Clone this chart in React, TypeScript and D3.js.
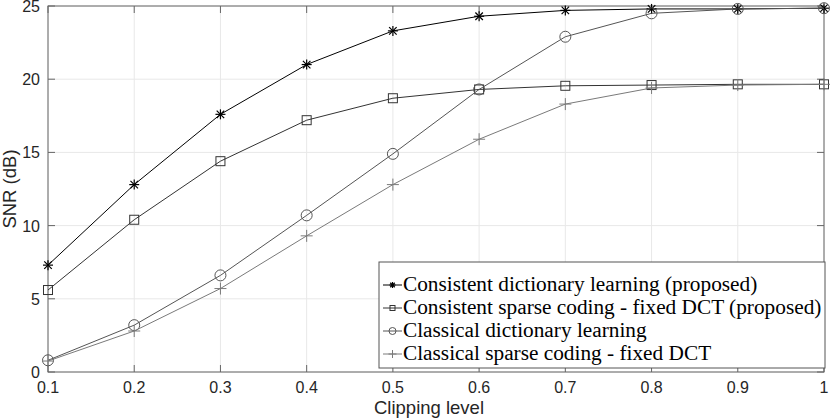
import React from "react";
import * as d3 from "d3";

const clipLevels = [0.1, 0.2, 0.3, 0.4, 0.5, 0.6, 0.7, 0.8, 0.9, 1.0];
const consistentDL = [7.3, 12.8, 17.6, 21.0, 23.3, 24.3, 24.7, 24.8, 24.8, 24.85];
const consistentDCT = [5.6, 10.4, 14.4, 17.2, 18.7, 19.3, 19.55, 19.6, 19.65, 19.65];
const classicalDL = [0.8, 3.2, 6.6, 10.7, 14.9, 19.3, 22.9, 24.5, 24.8, 24.85];
const classicalDCT = [0.75, 2.8, 5.7, 9.3, 12.8, 15.9, 18.3, 19.4, 19.6, 19.65];
const xTicks = [0.1, 0.2, 0.3, 0.4, 0.5, 0.6, 0.7, 0.8, 0.9, 1];
const yTicks = [0, 5, 10, 15, 20, 25];

const series = [
  { name: "Consistent dictionary learning (proposed)", values: consistentDL, color: "#000000", marker: "star" },
  { name: "Consistent sparse coding - fixed DCT (proposed)", values: consistentDCT, color: "#333333", marker: "square" },
  { name: "Classical dictionary learning", values: classicalDL, color: "#555555", marker: "circle" },
  { name: "Classical sparse coding - fixed DCT", values: classicalDCT, color: "#7a7a7a", marker: "plus" },
];

const width = 830;
const height = 420;
const left = 48;
const right = 824;
const top = 6;
const bottom = 372;

const Marker = ({ type, x, y, color, size = 5 }) => {
  if (type === "star") {
    return (
      <g stroke={color} strokeWidth={1.2}>
        <line x1={x - size} x2={x + size} y1={y} y2={y} />
        <line x1={x} x2={x} y1={y - size} y2={y + size} />
        <line x1={x - size * 0.75} x2={x + size * 0.75} y1={y - size * 0.75} y2={y + size * 0.75} />
        <line x1={x - size * 0.75} x2={x + size * 0.75} y1={y + size * 0.75} y2={y - size * 0.75} />
      </g>
    );
  }
  if (type === "square") {
    return (
      <rect x={x - size + 0.5} y={y - size + 0.5} width={size * 2 - 1} height={size * 2 - 1}
        fill="none" stroke={color} strokeWidth={1} />
    );
  }
  if (type === "circle") {
    return <circle cx={x} cy={y} r={size + 0.5} fill="none" stroke={color} strokeWidth={1} />;
  }
  return (
    <g stroke={color} strokeWidth={1}>
      <line x1={x - size - 1} x2={x + size + 1} y1={y} y2={y} />
      <line x1={x} x2={x} y1={y - size - 1} y2={y + size + 1} />
    </g>
  );
};

const App = () => {
  const xScale = d3.scaleLinear().domain([0.1, 1]).range([left, right]);
  const yScale = d3.scaleLinear().domain([0, 25]).range([bottom, top]);
  const line = d3
    .line<number>()
    .x((d, i) => xScale(clipLevels[i]))
    .y(d => yScale(d));

  const legendX = 379;
  const legendY = 262;
  const legendW = 446;
  const legendH = 106;
  const rowH = 23;

  return (
    <svg width={width} height={height} style={{ position: "absolute", left: 0, top: 0 }}
      fontFamily="'Liberation Sans', Arial, sans-serif">
      <rect x={0} y={0} width={width} height={height} fill="#fff" />
      {xTicks.map((t, i) => (
        <line key={"gx" + i} x1={xScale(t)} x2={xScale(t)} y1={top} y2={bottom} stroke="#e8e8e8" />
      ))}
      {yTicks.map((t, i) => (
        <line key={"gy" + i} x1={left} x2={right} y1={yScale(t)} y2={yScale(t)} stroke="#e8e8e8" />
      ))}
      <rect x={left} y={top} width={right - left} height={bottom - top} fill="none" stroke="#666" strokeWidth={1} />
      {xTicks.map((t, i) => (
        <g key={"tx" + i}>
          <line x1={xScale(t)} x2={xScale(t)} y1={bottom} y2={bottom - 7} stroke="#666" />
          <line x1={xScale(t)} x2={xScale(t)} y1={top} y2={top + 7} stroke="#666" />
          <text x={xScale(t)} y={bottom + 21} textAnchor="middle" fontSize={16} fill="#262626">
            {t === 1 ? "1" : t.toFixed(1)}
          </text>
        </g>
      ))}
      {yTicks.map((t, i) => (
        <g key={"ty" + i}>
          <line x1={left} x2={left + 7} y1={yScale(t)} y2={yScale(t)} stroke="#666" />
          <line x1={right} x2={right - 7} y1={yScale(t)} y2={yScale(t)} stroke="#666" />
          <text x={left - 8} y={yScale(t) + 6} textAnchor="end" fontSize={16} fill="#262626">
            {t}
          </text>
        </g>
      ))}
      <text x={429} y={414} textAnchor="middle" fontSize={18.5} fill="#262626">
        Clipping level
      </text>
      <text transform={`translate(16, ${(top + bottom) / 2}) rotate(-90)`} textAnchor="middle"
        fontSize={18.5} fill="#262626">
        SNR (dB)
      </text>
      {series.map((s, si) => (
        <g key={"s" + si}>
          <path d={line(s.values) || ""} fill="none" stroke={s.color} strokeWidth={1} />
          {s.values.map((v, i) => (
            <Marker key={i} type={s.marker} x={xScale(clipLevels[i])} y={yScale(v)} color={s.color} />
          ))}
        </g>
      ))}
      <rect x={legendX} y={legendY} width={legendW} height={legendH} fill="#fff" stroke="#555" strokeWidth={1} />
      {series.map((s, si) => {
        const cy = legendY + 23 + si * rowH;
        return (
          <g key={"l" + si}>
            <line x1={legendX + 4} x2={legendX + 23} y1={cy} y2={cy} stroke={s.color} />
            <Marker type={s.marker} x={legendX + 13.5} y={cy} color={s.color} size={3} />
            <text x={legendX + 24} y={cy + 6} fontSize={21.3}
              fontFamily="'Liberation Serif', 'Times New Roman', serif" fill="#000">
              {s.name}
            </text>
          </g>
        );
      })}
    </svg>
  );
};

export default App;
